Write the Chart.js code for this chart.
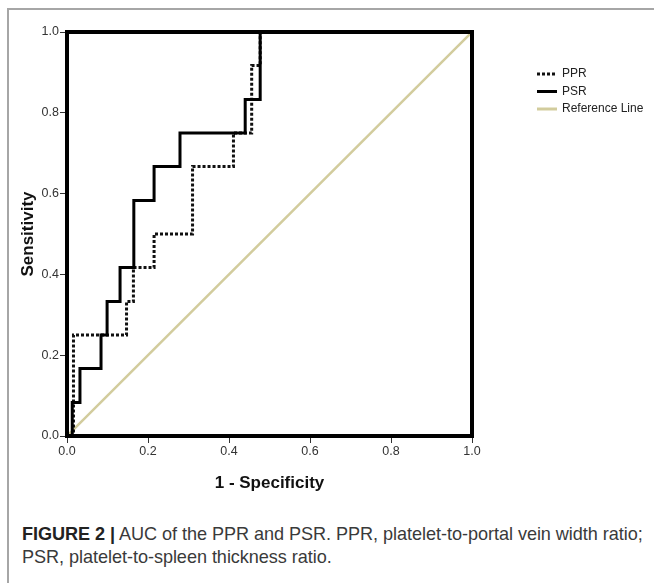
<!DOCTYPE html>
<html>
<head>
<meta charset="utf-8">
<script src="https://cdn.jsdelivr.net/npm/chart.js@4.4.0/dist/chart.umd.min.js"></script>
<style>
  html, body { margin: 0; padding: 0; background: #fff; }
  body { width: 654px; height: 583px; position: relative; overflow: hidden; font-family: "Liberation Sans", Arial, sans-serif; }
  #frameTop { position: absolute; left: 7px; top: 8px; width: 647px; height: 0; border-top: 2px solid #a6a6a6; }
  #frameLeft { position: absolute; left: 7px; top: 8px; width: 0; height: 575px; border-left: 2px solid #a6a6a6; }
  #wrap { position: absolute; left: 0; top: 0; width: 654px; height: 500px; }
  #caption { position: absolute; left: 22px; top: 523px; font-size: 18.1px; line-height: 23px; color: #3a3a3a; white-space: nowrap; letter-spacing: -0.05px; }
  #caption b { color: #222; }
</style>
</head>
<body>
<div id="frameTop"></div>
<div id="frameLeft"></div>
<div id="wrap"><canvas id="c" width="654" height="500"></canvas></div>
<div id="caption"><b>FIGURE 2 |</b> AUC of the PPR and PSR. PPR, platelet-to-portal vein width ratio;<br>PSR, platelet-to-spleen thickness ratio.</div>
<script>
// ROC points (1 - Specificity, Sensitivity)
const pprFpr = [0, 0.016, 0.147, 0.164, 0.215, 0.310, 0.411, 0.456, 0.477, 1.0];
const pprTpr = [0, 0.250, 0.333, 0.417, 0.500, 0.667, 0.750, 0.917, 1.000, 1.0];
const psrFpr = [0, 0.013, 0.032, 0.084, 0.099, 0.131, 0.165, 0.215, 0.279, 0.440, 0.477, 1.0];
const psrTpr = [0, 0.083, 0.167, 0.250, 0.333, 0.417, 0.583, 0.667, 0.750, 0.833, 1.000, 1.0];
const refX = [0, 1];
const refY = [0, 1];
const xTicks = [0, 0.2, 0.4, 0.6, 0.8, 1.0];
const yTicks = [0, 0.2, 0.4, 0.6, 0.8, 1.0];
const seriesLabels = ['PPR', 'PSR', 'Reference Line'];

const toPts = (xs, ys) => xs.map((x, i) => ({ x: x, y: ys[i] }));

const framePlugin = {
  id: 'frame',
  afterDatasetsDraw(chart) {
    const a = chart.chartArea, ctx = chart.ctx;
    ctx.save();
    ctx.strokeStyle = '#000';
    ctx.lineWidth = 4;
    ctx.strokeRect(a.left, a.top, a.right - a.left, a.bottom - a.top);
    ctx.restore();
  }
};

const legendPlugin = {
  id: 'customLegend',
  afterDraw(chart) {
    const ctx = chart.ctx;
    const x0 = 537, x1 = 557, tx = 562;
    const rows = [74, 91.5, 109];
    ctx.save();
    chart.data.datasets.forEach((ds, i) => {
      const y = rows[i];
      ctx.beginPath();
      ctx.strokeStyle = ds.borderColor;
      ctx.lineWidth = 3;
      ctx.setLineDash(ds.borderDash || []);
      ctx.moveTo(x0, y);
      ctx.lineTo(x1, y);
      ctx.stroke();
      ctx.setLineDash([]);
      ctx.fillStyle = '#222';
      ctx.font = '12px "Liberation Sans", Arial, sans-serif';
      ctx.textBaseline = 'middle';
      ctx.textAlign = 'left';
      ctx.fillText(ds.label, tx, y);
    });
    ctx.restore();
  }
};

new Chart(document.getElementById('c'), {
  type: 'line',
  data: {
    datasets: [
      { label: seriesLabels[0], data: toPts(pprFpr, pprTpr), borderColor: '#111', borderWidth: 3, borderDash: [3, 2], stepped: 'before', pointRadius: 0, fill: false, order: 2 },
      { label: seriesLabels[1], data: toPts(psrFpr, psrTpr), borderColor: '#000', borderWidth: 3, stepped: 'before', pointRadius: 0, fill: false, order: 1 },
      { label: seriesLabels[2], data: toPts(refX, refY), borderColor: '#d2cc9d', borderWidth: 2.5, pointRadius: 0, fill: false, order: 3 }
    ]
  },
  options: {
    responsive: false,
    animation: false,
    layout: { padding: { left: 0, top: 32, right: 182, bottom: 0 } },
    plugins: { legend: { display: false }, tooltip: { enabled: false } },
    scales: {
      x: {
        type: 'linear', min: 0, max: 1,
        afterFit(s) { s.height = 64; },
        afterBuildTicks(s) { s.ticks = xTicks.map(v => ({ value: v })); },
        ticks: { callback: v => v.toFixed(1), color: '#333', padding: 1, maxRotation: 0, font: { size: 12.5, family: '"Liberation Sans", Arial, sans-serif' } },
        grid: { drawOnChartArea: false, drawTicks: true, tickLength: 7, color: '#333', lineWidth: 1 },
        border: { display: false },
        title: { display: true, text: '1 - Specificity', color: '#111', padding: { top: 0, bottom: 6 }, font: { size: 17, weight: 'bold', family: '"Liberation Sans", Arial, sans-serif' } }
      },
      y: {
        type: 'linear', min: 0, max: 1,
        afterFit(s) { s.width = 67; },
        afterBuildTicks(s) { s.ticks = yTicks.map(v => ({ value: v })); },
        ticks: { callback: v => v.toFixed(1), color: '#333', padding: 1, font: { size: 12.5, family: '"Liberation Sans", Arial, sans-serif' } },
        grid: { drawOnChartArea: false, drawTicks: true, tickLength: 7, color: '#333', lineWidth: 1 },
        border: { display: false },
        title: { display: true, text: 'Sensitivity', color: '#111', padding: { top: 18, bottom: 0 }, font: { size: 17, weight: 'bold', family: '"Liberation Sans", Arial, sans-serif' } }
      }
    }
  },
  plugins: [framePlugin, legendPlugin]
});
</script>
</body>
</html>
